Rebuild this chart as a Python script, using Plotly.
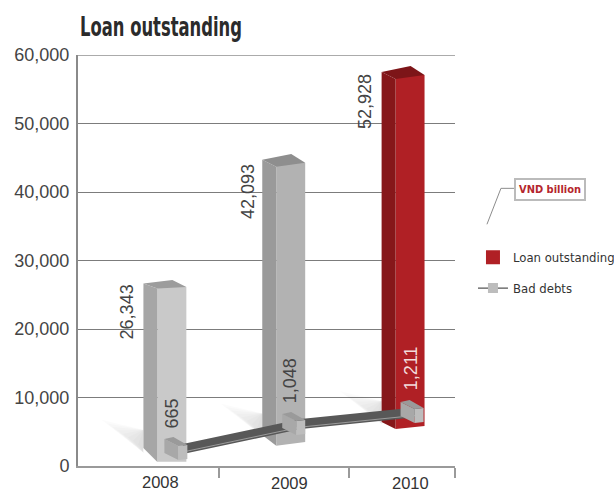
import plotly.graph_objects as go

# Chart data
YEARS = ["2008", "2009", "2010"]
LOAN = [26343, 42093, 52928]
BAD_DEBTS = [665, 1048, 1211]
Y_TICKS = [0, 10000, 20000, 30000, 40000, 50000, 60000]

# Canvas and plot frame, in pixels
W, H = 614, 491
LEFT, RIGHT, TOP, BOTTOM = 77.5, 455, 54.5, 466
PX_PER_UNIT = 0.00664  # vertical scale of the receding 3D bars

# Oblique projection of the bars, in pixels
BAR_X = [171.5, 290.5, 410.0]
BAR_W = 29
BAR_RISE = [4.3, 24, 40]        # floor rises toward the right
TOP_TILT = [1.5, 4, 4]
FOOT_TILT = [0.3, 3.7, 3]
DEPTH_X = 14
SIDE_DY_BOTTOM = [14, 10.7, 7]
SIDE_DY_TOP = [5, 7, 7]
FRONT = ["#c9c9c9", "#b2b2b2", "#b02025"]
SIDE = ["#a6a6a6", "#9a9a9a", "#86171a"]
CAP = ["#9c9c9c", "#8e8e8e", "#7d1518"]

# Bad debts ribbon and cubes, in pixels
CUBE_X = [182.5, 300.5, 419.0]
CUBE_RISE = [1.6, 24, 35]
CUBE_W = 9
CUBE_H = 14

LOAN_LABEL_X = [127, 248, 365]
LOAN_LABEL_DROP = [25, 29, 27]
BAD_LABEL_X = [172, 290, 411]
BAD_LABEL_LIFT = [47, 54, 55]
BAD_LABEL_COLOR = ["#444444", "#444444", "#f3dcdc"]
YEAR_LABEL_X = [160, 289, 410]
YEAR_LABEL_Y = [482.5, 483.5, 483.5]
BOUNDARY_TICKS = [219, 349, 455]

SANS = "Liberation Sans"
NARROW = "DejaVu Sans Condensed"
TITLE_WIDTH = 162


def du(px):
    """Pixel height to units on the bar axis."""
    return px / PX_PER_UNIT


def paper_x(px):
    return (px - LEFT) / (RIGHT - LEFT)


def paper_y(px):
    return (BOTTOM - px) / (BOTTOM - TOP)


fig = go.Figure()


def polygon(xs, ys, color):
    fig.add_trace(go.Scatter(
        x=xs + xs[:1], y=ys + ys[:1], yaxis="y2", mode="lines", fill="toself",
        fillcolor=color, line=dict(width=0), hoverinfo="skip", showlegend=False,
    ))


# Soft floor shadows behind each bar, built up from nested translucent wedges
for i in range(3):
    x0 = BAR_X[i] - BAR_W / 2 - DEPTH_X
    y0 = du(BAR_RISE[i] + SIDE_DY_BOTTOM[i])
    for step in range(1, 9):
        t = step / 8
        polygon(
            [x0, x0 - 42 * t, x0],
            [y0 - du(5), y0 + du(28) * t, y0 + du(18)],
            "rgba(0,0,0,0.016)",
        )

# Bar side faces, then fronts, then caps
for i in range(3):
    xl = BAR_X[i] - BAR_W / 2
    base = du(BAR_RISE[i])
    top = base + LOAN[i]
    foot = base - du(FOOT_TILT[i])
    shoulder = top - du(TOP_TILT[i])
    polygon(
        [xl, xl - DEPTH_X, xl - DEPTH_X, xl],
        [foot, foot + du(SIDE_DY_BOTTOM[i]), shoulder + du(SIDE_DY_TOP[i]), shoulder],
        SIDE[i],
    )

fig.add_trace(go.Bar(
    x=BAR_X, y=LOAN, base=[du(r) for r in BAR_RISE], width=BAR_W, yaxis="y2",
    marker=dict(color=FRONT, line=dict(width=0)), showlegend=False, hoverinfo="skip",
))

for i in range(3):
    xl = BAR_X[i] - BAR_W / 2
    xr = xl + BAR_W
    base = du(BAR_RISE[i])
    top = base + LOAN[i]
    foot = base - du(FOOT_TILT[i])
    shoulder = top - du(TOP_TILT[i])
    polygon([xl, xr, xl], [foot, base, base], FRONT[i])
    polygon(
        [xl, xl - DEPTH_X, xr - DEPTH_X, xr, xr, xl],
        [shoulder, shoulder + du(SIDE_DY_TOP[i]),
         top + du(SIDE_DY_TOP[i] + 2), top, top, shoulder],
        CAP[i],
    )

# Bad debts ribbon, run through the cube floors
cube_floor = [du(CUBE_RISE[i]) + BAD_DEBTS[i] for i in range(3)]
ribbon_top = [y + du(16) for y in cube_floor]
ribbon_low = [y + du(6) for y in cube_floor]
polygon(CUBE_X + CUBE_X[::-1], ribbon_top + ribbon_low[::-1], "#585858")
fig.add_trace(go.Scatter(
    x=CUBE_X, y=[y + du(8) for y in cube_floor], yaxis="y2", mode="lines",
    line=dict(color="#b8b8b8", width=0.7), hoverinfo="skip", showlegend=False,
))

# Bad debts cubes
for i in range(3):
    xl = CUBE_X[i] - CUBE_W / 2
    xr = xl + CUBE_W
    y = cube_floor[i]
    polygon([xl, xl - 14, xl - 14, xl], [y, y + du(7), y + du(7 + CUBE_H), y + du(CUBE_H)], "#a8a8a8")
    polygon([xl, xr, xr, xl], [y, y + du(1), y + du(CUBE_H + 1), y + du(CUBE_H)], "#bdbdbd")
    polygon(
        [xl, xl - 14, xr - 14, xr],
        [y + du(CUBE_H), y + du(CUBE_H + 7), y + du(CUBE_H + 9), y + du(CUBE_H + 1)],
        "#9a9a9a",
    )

# Legend entries
fig.add_trace(go.Scatter(
    x=[None], y=[None], mode="markers", name="Loan outstanding", legendgroup="a",
    marker=dict(symbol="square", size=14, color="#b02025"),
))
fig.add_trace(go.Scatter(
    x=[None], y=[None], mode="lines+markers", name="Bad debts", legendgroup="b",
    line=dict(color="#555555", width=1.2),
    marker=dict(symbol="square", size=10, color="#bdbdbd"),
))

annotations = [
    dict(text="<b>Loan outstanding</b>", x=paper_x(78), y=paper_y(26), xref="paper", yref="paper",
         xanchor="left", yanchor="middle", showarrow=False,
         font=dict(family=NARROW, size=26, color="#2b2b2b")),
    dict(text="<b>VND billion</b>", x=paper_x(550.5), y=paper_y(189), xref="paper", yref="paper",
         xanchor="center", yanchor="middle", showarrow=False, bgcolor="white",
         bordercolor="#bbbbbb", borderwidth=2, borderpad=3,
         font=dict(family=NARROW, size=11, color="#b5262d")),
]
for i in range(3):
    annotations.append(dict(
        text=f"{LOAN[i]:,}", x=LOAN_LABEL_X[i], xref="x", yref="y2",
        y=du(BAR_RISE[i]) + LOAN[i] - du(LOAN_LABEL_DROP[i]),
        xanchor="center", yanchor="middle",
        textangle=-90, showarrow=False, font=dict(family=SANS, size=18, color="#444444"),
    ))
    annotations.append(dict(
        text=f"{BAD_DEBTS[i]:,}", x=BAD_LABEL_X[i], xref="x", yref="y2",
        y=cube_floor[i] + du(BAD_LABEL_LIFT[i]),
        xanchor="center", yanchor="middle",
        textangle=-90, showarrow=False, font=dict(family=SANS, size=18, color=BAD_LABEL_COLOR[i]),
    ))
    annotations.append(dict(
        text=YEARS[i], x=YEAR_LABEL_X[i], xref="x", y=paper_y(YEAR_LABEL_Y[i]), yref="paper",
        xanchor="center", yanchor="middle",
        showarrow=False, font=dict(family=SANS, size=16.5, color="#333333"),
    ))

# Leader line from the unit tag down to the legend, and the heavier top rule
shapes = [
    dict(type="path", xref="paper", yref="paper",
         path=f"M {paper_x(487)} {paper_y(224)} L {paper_x(501)} {paper_y(188)} L {paper_x(516)} {paper_y(188)}",
         line=dict(color="#8c8c8c", width=1)),
    dict(type="line", xref="paper", yref="y", x0=0, x1=1, y0=60000, y1=60000,
         line=dict(color="#ababab", width=2)),
]

fig.update_layout(
    width=W, height=H,
    margin=dict(l=LEFT, r=W - RIGHT, t=TOP, b=H - BOTTOM, pad=0, autoexpand=False),
    paper_bgcolor="white", plot_bgcolor="white",
    barmode="overlay",
    xaxis=dict(
        range=[LEFT, RIGHT], showgrid=False, zeroline=False, showline=True,
        linecolor="#9a9a9a", linewidth=1.5, showticklabels=False,
        tickvals=BOUNDARY_TICKS, ticks="outside", ticklen=10, tickcolor="#9a9a9a", tickwidth=1.5,
    ),
    yaxis=dict(
        range=[0, 60000], tickvals=Y_TICKS, tickformat=",", showgrid=True,
        gridcolor="#7c7c7c", gridwidth=1, zeroline=False, showline=True,
        linecolor="#8a8a8a", linewidth=2, ticks="", ticklabelstandoff=3,
        tickfont=dict(family=SANS, size=18, color="#444444"),
    ),
    yaxis2=dict(range=[0, (BOTTOM - TOP) / PX_PER_UNIT], overlaying="y", visible=False),
    legend=dict(
        x=paper_x(473), y=paper_y(242), xanchor="left", yanchor="top",
        font=dict(family=NARROW, size=13, color="#333333"),
        tracegroupgap=11, bgcolor="rgba(0,0,0,0)", itemsizing="trace",
    ),
    annotations=annotations,
    shapes=shapes,
    showlegend=True,
)

# The headline is set in a tall condensed cut: squeeze it horizontally to its measure
condense_title = f"""
document.querySelectorAll('.annotation-text').forEach(function (t) {{
  if (t.textContent === 'Loan outstanding') {{
    var b = t.getBBox();
    var s = {TITLE_WIDTH} / b.width;
    t.setAttribute('transform',
      'translate(' + b.x + ',0) scale(' + s + ',1) translate(' + (-b.x) + ',0)');
  }}
}});
"""

fig.write_html("out.html", config=dict(displayModeBar=False), post_script=condense_title)
